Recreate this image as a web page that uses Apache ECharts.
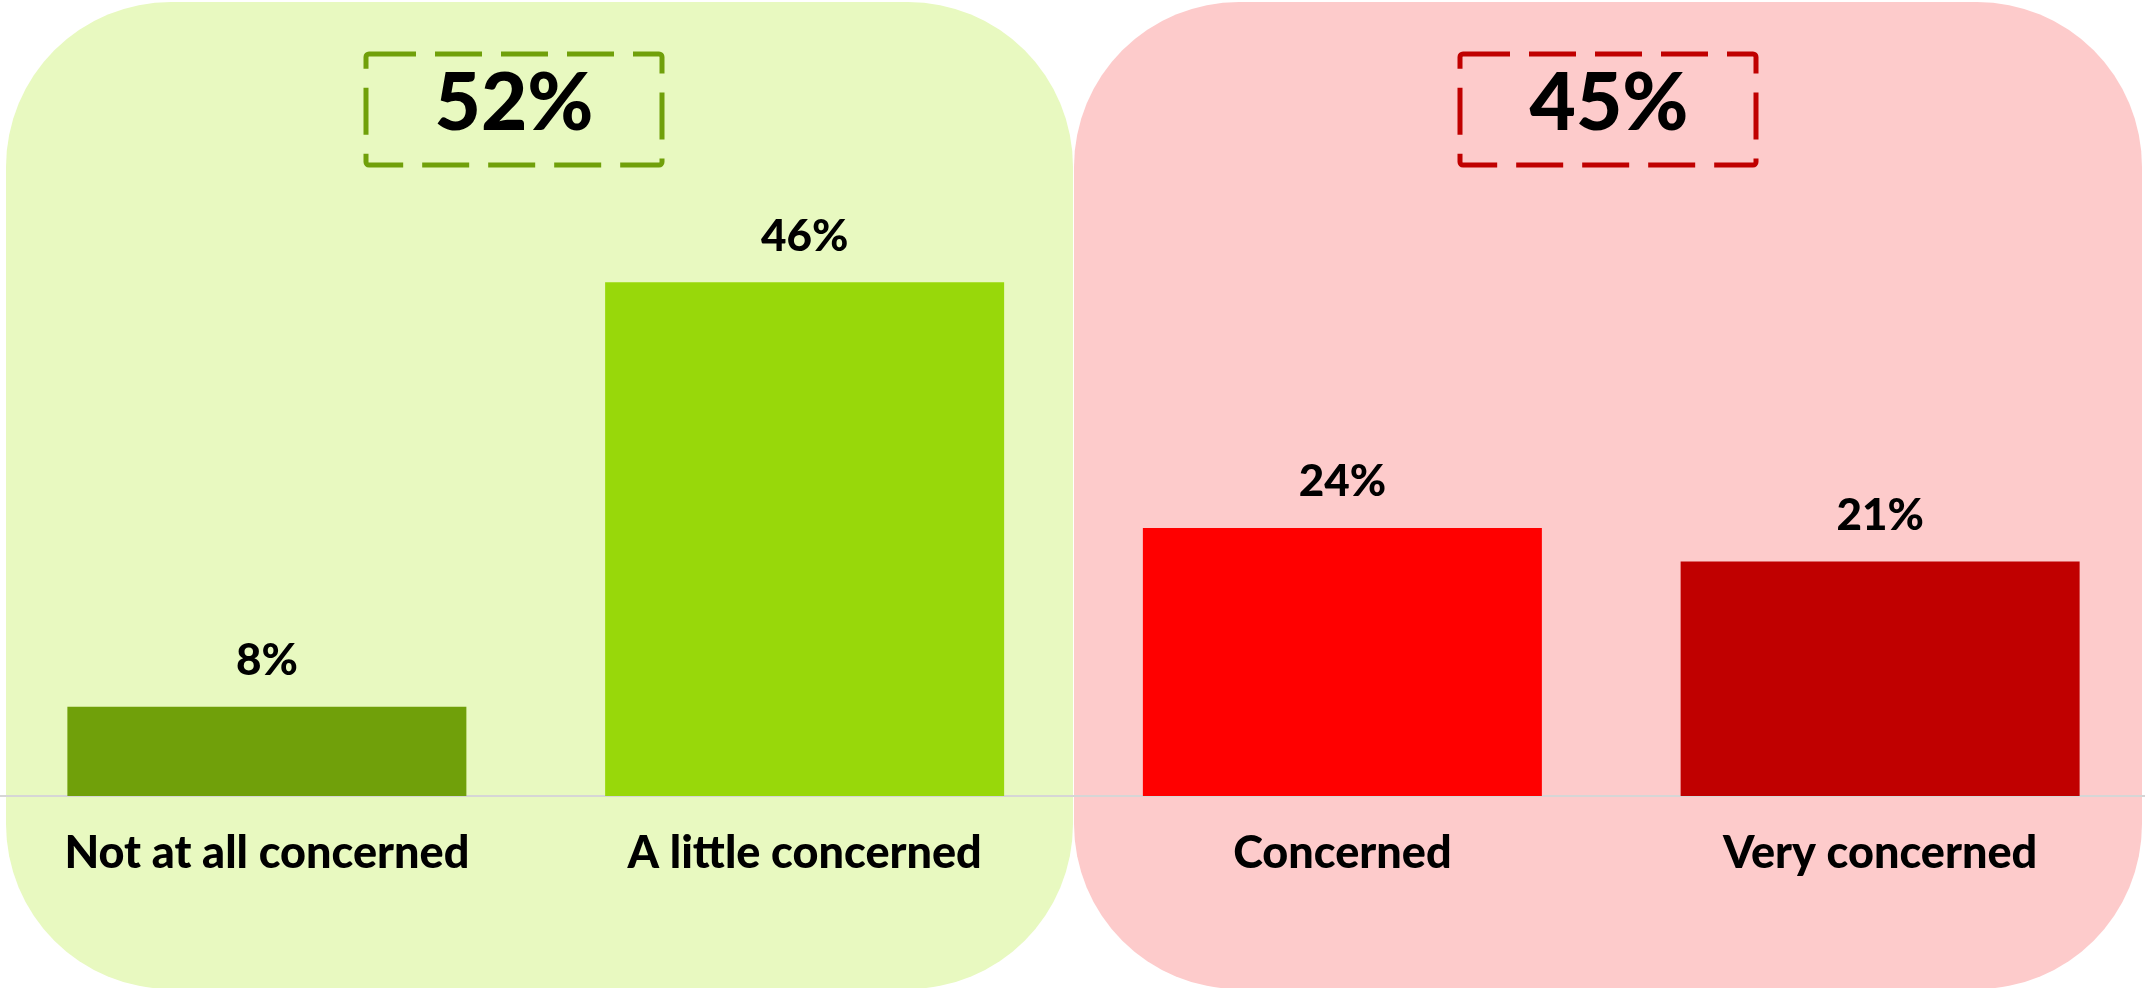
<!DOCTYPE html>
<html>
<head>
<meta charset="utf-8">
<script src="https://cdn.jsdelivr.net/npm/echarts@6/dist/echarts.min.js"></script>
<style>
html,body{margin:0;padding:0;background:#fff;}
#chart{width:2145px;height:988px;}
</style>
</head>
<body>
<div id="chart"></div>
<script>
// ---- data ----
const categories = ['Not at all concerned', 'A little concerned', 'Concerned', 'Very concerned'];
const values = [8, 46, 24, 21];
const groupTotals = ['52%', '45%'];

// ---- styles ----
const barColors = ['#70A00A', '#98D80A', '#FF0000', '#C00000'];
const FONT = 'Lato, "Open Sans", sans-serif';

const chart = echarts.init(document.getElementById('chart'), null, {renderer: 'canvas'});

const option = {
  backgroundColor: '#ffffff',
  animation: false,
  grid: {left: -2, width: 2151, top: 126, bottom: 192, containLabel: false, outerBoundsMode: 'none'},
  xAxis: {
    type: 'category',
    data: categories,
    axisLine: {show: true, lineStyle: {color: '#d6d6d6', width: 2}},
    axisTick: {show: false},
    axisLabel: {
      margin: 35,
      color: '#000',
      fontFamily: FONT,
      fontWeight: 900,
      fontSize: 45
    }
  },
  yAxis: {
    type: 'value',
    min: 0,
    max: 60,
    show: false,
    splitLine: {show: false}
  },
  series: [{
    type: 'bar',
    barWidth: 399,
    z: 5,
    data: values.map((v, i) => ({value: v, itemStyle: {color: barColors[i]}})),
    label: {
      show: true,
      position: 'top',
      distance: 24,
      formatter: '{c}%',
      color: '#000',
      fontFamily: FONT,
      fontWeight: 900,
      fontSize: 44
    }
  }],
  graphic: [
    {type: 'rect', z: -10, shape: {x: 6, y: 2, width: 1067, height: 987, r: 165}, style: {fill: '#E8F9C0'}},
    {type: 'rect', z: -10, shape: {x: 1074, y: 2, width: 1068, height: 987, r: 165}, style: {fill: '#FDCBCB'}},
    {type: 'rect', z: 10, shape: {x: 366, y: 54, width: 296, height: 111, r: 3},
      style: {fill: 'none', stroke: '#70A00A', lineWidth: 5, lineDash: [47, 19]}},
    {type: 'rect', z: 10, shape: {x: 1460, y: 54, width: 296, height: 111, r: 3},
      style: {fill: 'none', stroke: '#C00000', lineWidth: 5, lineDash: [47, 19]}},
    {type: 'text', z: 11, x: 514, y: 104,
      style: {text: groupTotals[0], fill: '#000', fontFamily: FONT, fontWeight: 900, fontSize: 80, align: 'center', verticalAlign: 'middle'}},
    {type: 'text', z: 11, x: 1609, y: 104,
      style: {text: groupTotals[1], fill: '#000', fontFamily: FONT, fontWeight: 900, fontSize: 80, align: 'center', verticalAlign: 'middle'}}
  ]
};
chart.setOption(option);
</script>
</body>
</html>
